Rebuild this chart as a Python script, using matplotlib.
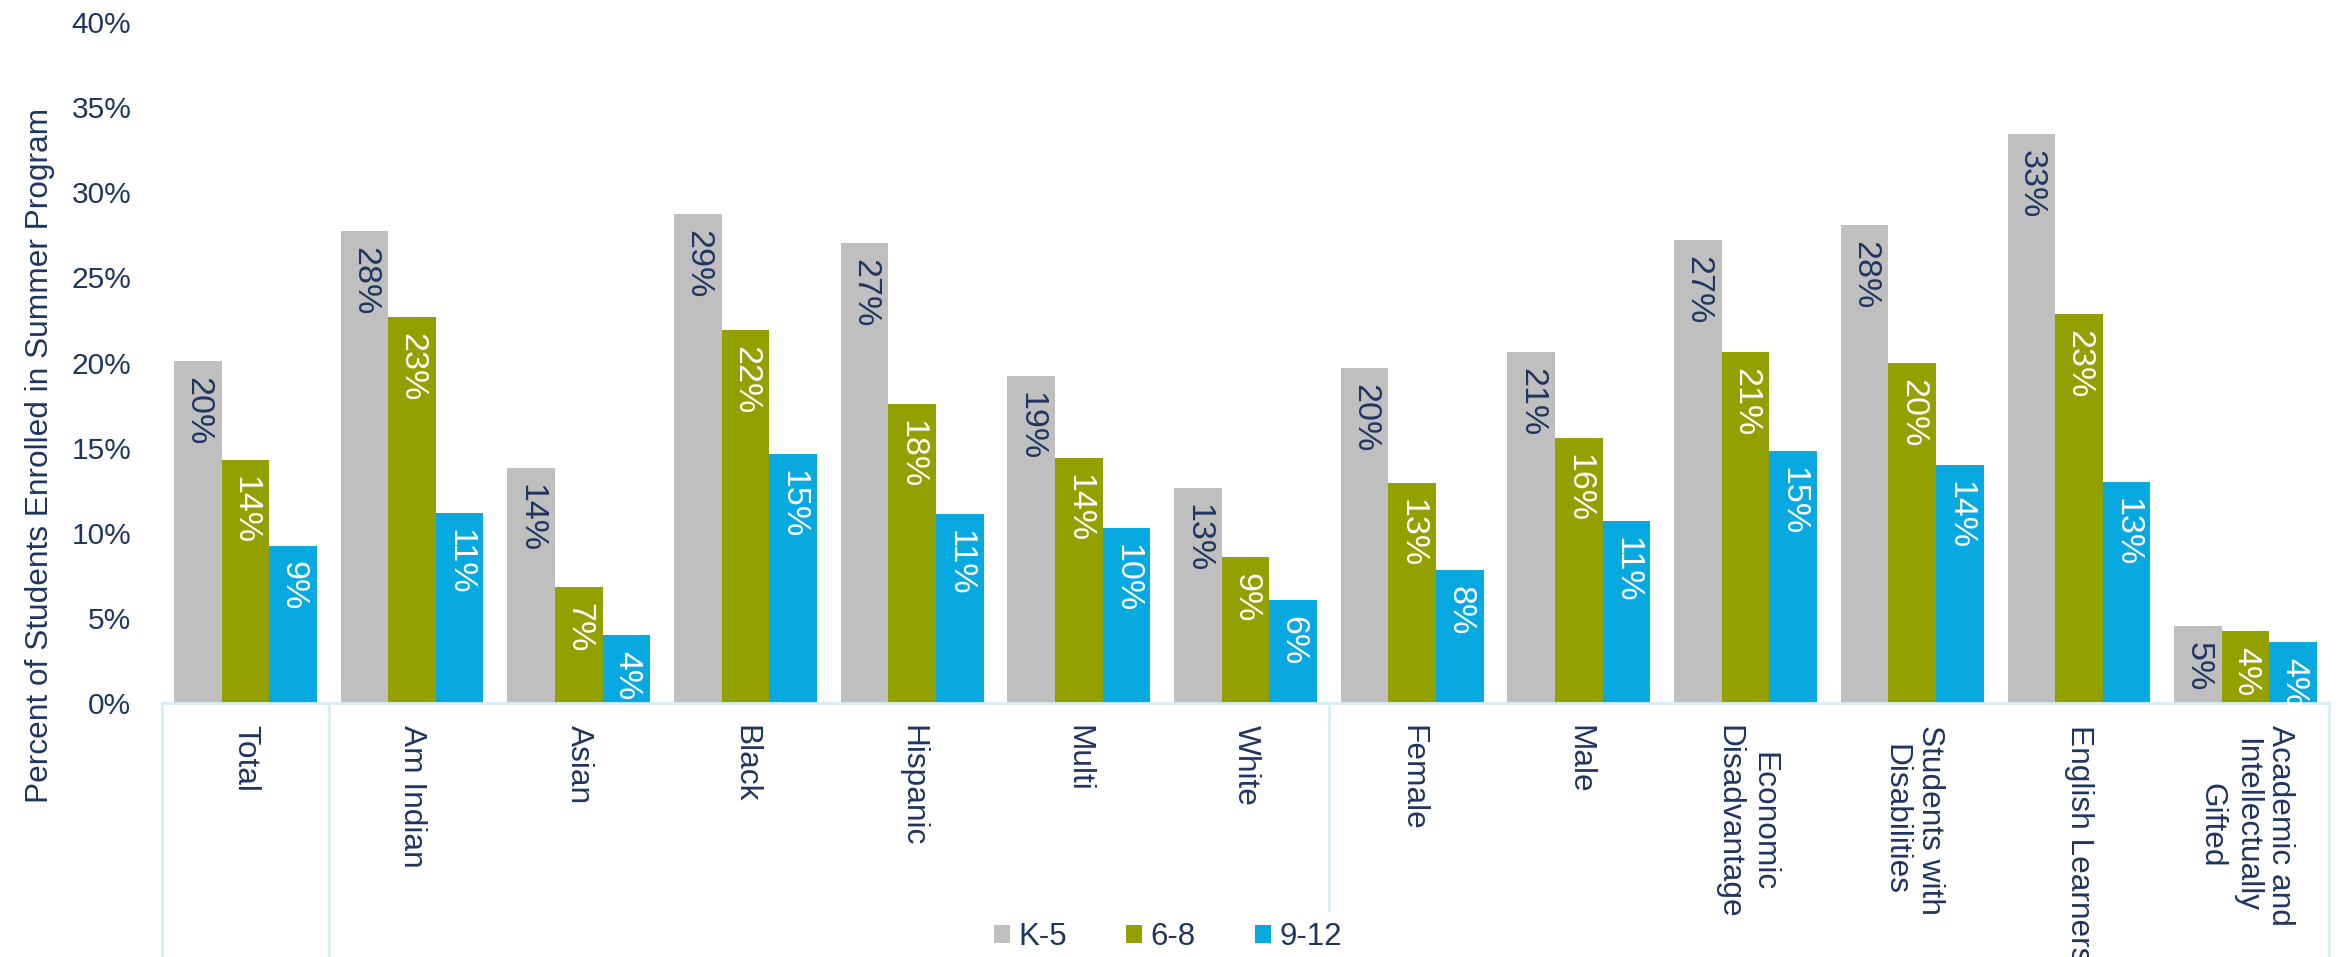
import matplotlib
matplotlib.use("Agg")
import matplotlib.pyplot as plt
import matplotlib.transforms as mtransforms
from matplotlib.patches import Patch
import numpy as np

# datos
categories = ["Total", "Am Indian", "Asian", "Black", "Hispanic", "Multi", "White",
              "Female", "Male", "Economic\nDisadvantage", "Students with\nDisabilities",
              "English Learners", "Academic and\nIntellectually\nGifted"]
series_names = ["K-5", "6-8", "9-12"]
k5 = [20.1, 27.75, 13.8, 28.7, 27.0, 19.2, 12.6, 19.65, 20.6, 27.2, 28.05, 33.4, 4.55]
g68 = [14.25, 22.7, 6.8, 21.9, 17.55, 14.4, 8.6, 12.9, 15.55, 20.6, 19.95, 22.85, 4.25]
g912 = [9.25, 11.15, 4.0, 14.6, 11.1, 10.3, 6.05, 7.8, 10.7, 14.8, 14.0, 13.0, 3.6]
y_ticks = [0, 5, 10, 15, 20, 25, 30, 35, 40]
y_title = "Percent of Students Enrolled in Summer Program"

navy = "#1F3561"
colors = ["#BFBFBF", "#92A000", "#08A8E0"]
label_colors = [navy, "white", "white"]
axis_blue = "#D5EEF8"

plt.rcParams["font.family"] = ["Liberation Sans", "DejaVu Sans"]

W, H = 2346, 957
fig = plt.figure(figsize=(W / 100, H / 100), dpi=100)
ax = fig.add_axes([162 / W, 1 - 703 / H, (2329 - 162) / W, (703 - 22) / H])

x = np.arange(len(categories))
bw = 0.2857
for i, (vals, col, lcol) in enumerate(zip([k5, g68, g912], colors, label_colors)):
    pos = x + (i - 1) * bw
    ax.bar(pos, vals, width=bw, color=col, linewidth=0)
    for xp, v in zip(pos, vals):
        ax.annotate(f"{round(v):d}%", (xp, v), xytext=(0, -11.5), textcoords="offset points",
                    rotation=-90, ha="center", va="top", color=lcol, fontsize=24.5,
                    family=["Liberation Sans Narrow", "Liberation Sans", "DejaVu Sans"])

ax.set_xlim(-0.5, len(categories) - 0.5)
ax.set_ylim(0, 40)
ax.set_yticks(y_ticks)
ax.set_yticklabels([f"{t}%" for t in y_ticks], fontsize=21.5, color=navy)
ax.tick_params(axis="y", length=0, pad=22)
ax.set_xticks([])
for s in ["top", "right", "left"]:
    ax.spines[s].set_visible(False)
ax.spines["bottom"].set_color(axis_blue)
ax.spines["bottom"].set_linewidth(2)

# lineas de separacion del eje de categorias
trans = mtransforms.blended_transform_factory(ax.transData, ax.transAxes)
bottom_full = -(H - 703) / (703 - 22)
bottom_mid = -(910 - 703) / (703 - 22)
for xs, yb in [(-0.5, bottom_full), (0.5, bottom_full), (6.5, bottom_mid), (12.5, bottom_full)]:
    ax.plot([xs, xs], [0, yb], color=axis_blue, lw=2, transform=trans, clip_on=False)

for xi, name in zip(x, categories):
    ax.text(xi, -(725 - 703) / (703 - 22), name, transform=trans, rotation=-90,
            ha="center", va="top", multialignment="center", fontsize=22.8, color=navy)

fig.text(40 / W, 1 - 455 / H, y_title, rotation=90, ha="center", va="center",
         fontsize=22.8, color=navy)

handles = [Patch(facecolor=c, edgecolor="none") for c in colors]
fig.legend(handles, series_names, loc="center", bbox_to_anchor=(1168 / W, 1 - 937 / H),
           ncol=3, frameon=False, fontsize=22.5, handlelength=0.51, handleheight=0.51,
           handletextpad=0.26, columnspacing=1.9, borderpad=0, labelcolor=navy)

fig.savefig("out.png", dpi=100)
